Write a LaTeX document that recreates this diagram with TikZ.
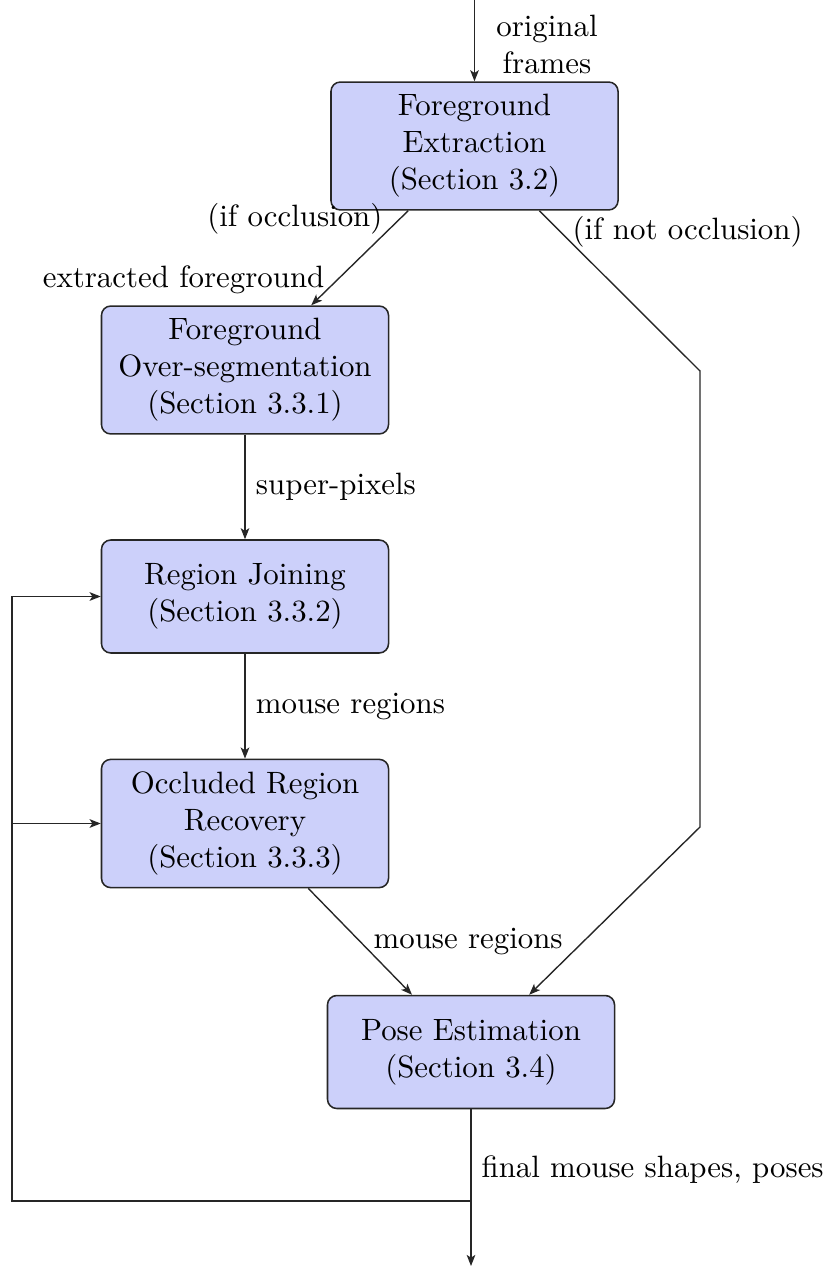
\documentclass[tikz,border=0pt]{standalone}
\usetikzlibrary{arrows.meta,calc}
\definecolor{boxfill}{RGB}{204,208,250}
\tikzset{
  procbox/.style={draw=black!85, line width=0.5pt, fill=boxfill, rounded corners=3pt,
    align=center, minimum width=93pt, minimum height=36.6pt, inner xsep=3.33pt, inner ysep=4pt},
  arr/.style={-{Stealth[length=3.6pt,width=2.8pt,inset=0.9pt]}, line width=0.45pt, draw=black!85},
  plain/.style={line width=0.45pt, draw=black!85},
  lbl/.style={inner sep=0pt}
}
\begin{document}
\begin{tikzpicture}[x=0.324pt,y=-0.324pt]
\useasboundingbox (0,0) rectangle (833,1268);
% nodes
\node[procbox] (FE) at (474.5,146) {Foreground\\Extraction\\(Section 3.2)};
\node[procbox] (FO) at (245,370) {Foreground\\Over-segmentation\\(Section 3.3.1)};
\node[procbox] (RJ) at (245,596.5) {Region Joining\\(Section 3.3.2)};
\node[procbox] (ORR) at (245,823.5) {Occluded Region\\Recovery\\(Section 3.3.3)};
\node[procbox] (PE) at (471,1052) {Pose Estimation\\(Section 3.4)};
% helper coordinates
\coordinate (in) at (474.5,0);
\coordinate (c1) at (700,371);
\coordinate (c2) at (700,827);
\coordinate (pein) at ($(PE.north)+(-59,0)$);
\coordinate (out) at (471,1266);
\coordinate (junc) at (471,1201);
\coordinate (fbl) at (12,1201);
% labels
\node[lbl, anchor=north, align=center] (orig) at (547,14) {original\\frames};
\node[lbl, anchor=base east] (ifocc) at (383,227) {(if occlusion)};
\node[lbl, anchor=base east] (extr) at (325,288) {extracted foreground};
\node[lbl, anchor=base west] (ifnot) at (572,240) {(if not occlusion)};
\node[lbl, anchor=base west] (mr2) at (373,948) {mouse regions};
\node[lbl, anchor=base west] (final) at (481,1177) {final mouse shapes, poses};
% connectors
\draw[arr] (in) -- (FE);
\draw[arr] (FE) -- (FO);
\draw[arr] (FE) -- (c1) -- (c2) -- (PE);
\draw[arr] (FO) -- node[right] (sp) {super-pixels} (RJ);
\draw[arr] (RJ) -- node[right] (mr1) {mouse regions} (ORR);
\draw[arr] (ORR) -- (pein);
\draw[arr] (PE) -- (out);
\draw[arr] (junc) -- (fbl) |- (RJ.west);
\draw[arr] (fbl |- ORR.west) -- (ORR.west);
\end{tikzpicture}
\end{document}
